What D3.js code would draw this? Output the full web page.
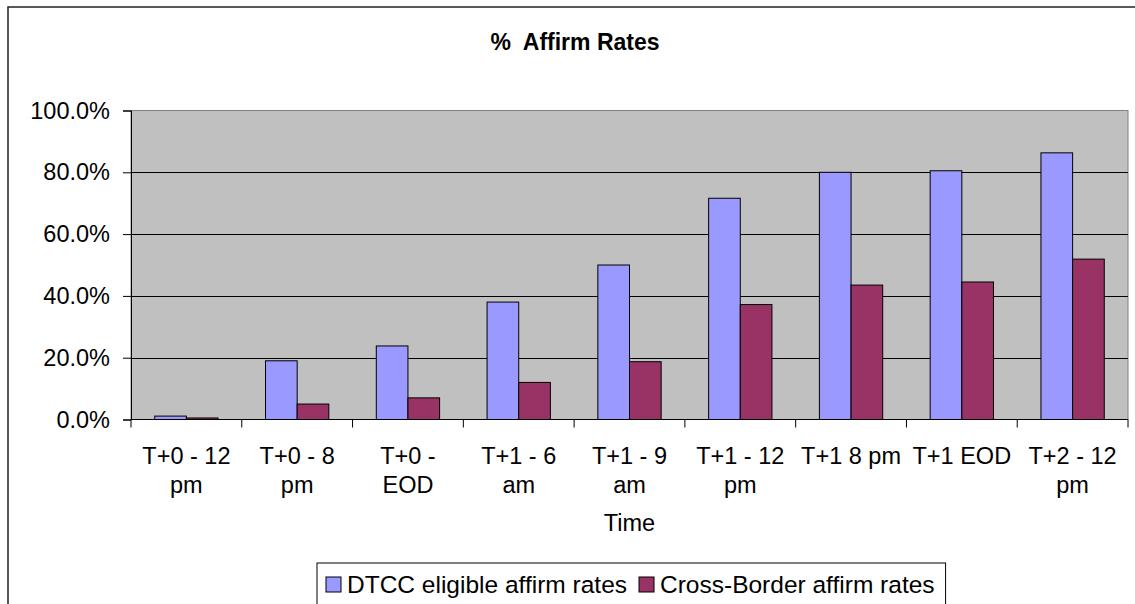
<!DOCTYPE html>
<html>
<head>
<meta charset="utf-8">
<script src="https://cdn.jsdelivr.net/npm/d3@7"></script>
<style>
  body { margin: 0; background: #fff; }
  text { font-family: Arial, "Liberation Sans", sans-serif; fill: #000; }
</style>
</head>
<body>
<svg id="svg" width="1135" height="604"></svg>
<script>
const categories = ["T+0 - 12 pm", "T+0 - 8 pm", "T+0 - EOD", "T+1 - 6 am", "T+1 - 9 am",
    "T+1 - 12 pm", "T+1 8 pm", "T+1 EOD", "T+2 - 12 pm"];
const dtcc = [0.011, 0.19, 0.238, 0.38, 0.50, 0.716, 0.80, 0.805, 0.863];
const crossBorder = [0.005, 0.05, 0.07, 0.12, 0.187, 0.372, 0.435, 0.445, 0.519];
const seriesNames = ["DTCC eligible affirm rates", "Cross-Border affirm rates"];
const seriesColors = ["#9999ff", "#993366"];
const yTicks = [0, 0.2, 0.4, 0.6, 0.8, 1.0];

const svg = d3.select("#svg"),
    plotLeft = 131, plotRight = 1128, plotTop = 110.5, plotBottom = 419.5,
    fontSize = 23.5;

// outer chart border
svg.append("rect").attr("x", 8).attr("y", 7).attr("width", 1160).attr("height", 640)
    .attr("fill", "#fff").attr("stroke", "#222").attr("stroke-width", 1.5);

const x = d3.scaleBand().domain(categories).range([plotLeft, plotRight]);
const y = d3.scaleLinear().domain([0, 1]).range([plotBottom, plotTop]);

// plot area
svg.append("rect").attr("x", plotLeft).attr("y", plotTop)
    .attr("width", plotRight - plotLeft).attr("height", plotBottom - plotTop)
    .attr("fill", "#c0c0c0").attr("stroke", "#808080").attr("stroke-width", 1);

// gridlines
svg.append("g").selectAll("line").data(yTicks.filter(d => d > 0 && d < 1)).join("line")
    .attr("x1", plotLeft).attr("x2", plotRight)
    .attr("y1", d => Math.round(y(d)) + 0.5).attr("y2", d => Math.round(y(d)) + 0.5)
    .attr("stroke", "#000").attr("stroke-width", 1);

// bars
const bw = x.bandwidth() / 3.5;
const series = [dtcc, crossBorder];
series.forEach((vals, s) => {
    svg.append("g").selectAll("rect").data(vals).join("rect")
        .attr("x", (d, i) => x(categories[i]) + bw * 0.75 + s * bw)
        .attr("y", d => y(d))
        .attr("width", bw)
        .attr("height", d => y(0) - y(d))
        .attr("fill", seriesColors[s])
        .attr("stroke", "#000").attr("stroke-width", 1);
});

// y axis
const yAxis = svg.append("g").attr("transform", "translate(" + plotLeft + ",0)")
    .call(d3.axisLeft(y).tickValues(yTicks).tickFormat(d3.format(".1%")).tickSize(8).tickPadding(13));
yAxis.select(".domain").attr("stroke", "#000");
yAxis.selectAll("text").style("font-size", fontSize + "px").attr("font-family", null);

// x axis
const xAxis = svg.append("g").attr("transform", "translate(0," + plotBottom + ")");
xAxis.append("line").attr("x1", plotLeft).attr("x2", plotRight).attr("stroke", "#000");
xAxis.selectAll("line.tick").data(d3.range(categories.length + 1)).join("line")
    .attr("class", "tick")
    .attr("x1", i => plotLeft + i * x.step()).attr("x2", i => plotLeft + i * x.step())
    .attr("y1", 0).attr("y2", 8).attr("stroke", "#000");

const labels = xAxis.selectAll("text").data(categories).join("text")
    .attr("x", d => x(d) + x.bandwidth() / 2)
    .attr("y", 44)
    .attr("text-anchor", "middle")
    .style("font-size", fontSize + "px");

// wrap labels to the band width
labels.each(function (d) {
    const el = d3.select(this), words = d.split(" ");
    let line = [];
    let tspan = el.append("tspan").attr("x", el.attr("x")).attr("dy", 0);
    words.forEach(w => {
        line.push(w);
        tspan.text(line.join(" "));
        if (tspan.node().getComputedTextLength() > x.bandwidth() - 6 && line.length > 1) {
            line.pop();
            tspan.text(line.join(" "));
            line = [w];
            tspan = el.append("tspan").attr("x", el.attr("x")).attr("dy", 29.5).text(w);
        }
    });
});

// axis title
svg.append("text").attr("x", (plotLeft + plotRight) / 2).attr("y", 531).attr("text-anchor", "middle")
    .style("font-size", fontSize + "px").text("Time");

// chart title
svg.append("text").attr("x", 575).attr("y", 50).attr("text-anchor", "middle")
    .style("font-size", "23px").style("font-weight", "bold").style("white-space", "pre")
    .text("%  Affirm Rates");

// legend
const legend = svg.append("g");
const box = legend.append("rect").attr("y", 563).attr("height", 60)
    .attr("fill", "#fff").attr("stroke", "#000").attr("stroke-width", 1);
let lx = 0;
const items = legend.append("g");
seriesNames.forEach((name, i) => {
    const g = items.append("g").attr("transform", "translate(" + lx + ",0)");
    g.append("rect").attr("x", 0).attr("y", 577).attr("width", 15).attr("height", 15)
        .attr("fill", seriesColors[i]).attr("stroke", "#000");
    const t = g.append("text").attr("x", 21).attr("y", 593).style("font-size", "24.5px").text(name);
    lx += 21 + t.node().getComputedTextLength() + 12;
});
const legendW = lx - 12 + 20;
const legendX = 317;
box.attr("x", legendX).attr("width", legendW);
items.attr("transform", "translate(" + (legendX + 9) + ",0)");
</script>
</body>
</html>
